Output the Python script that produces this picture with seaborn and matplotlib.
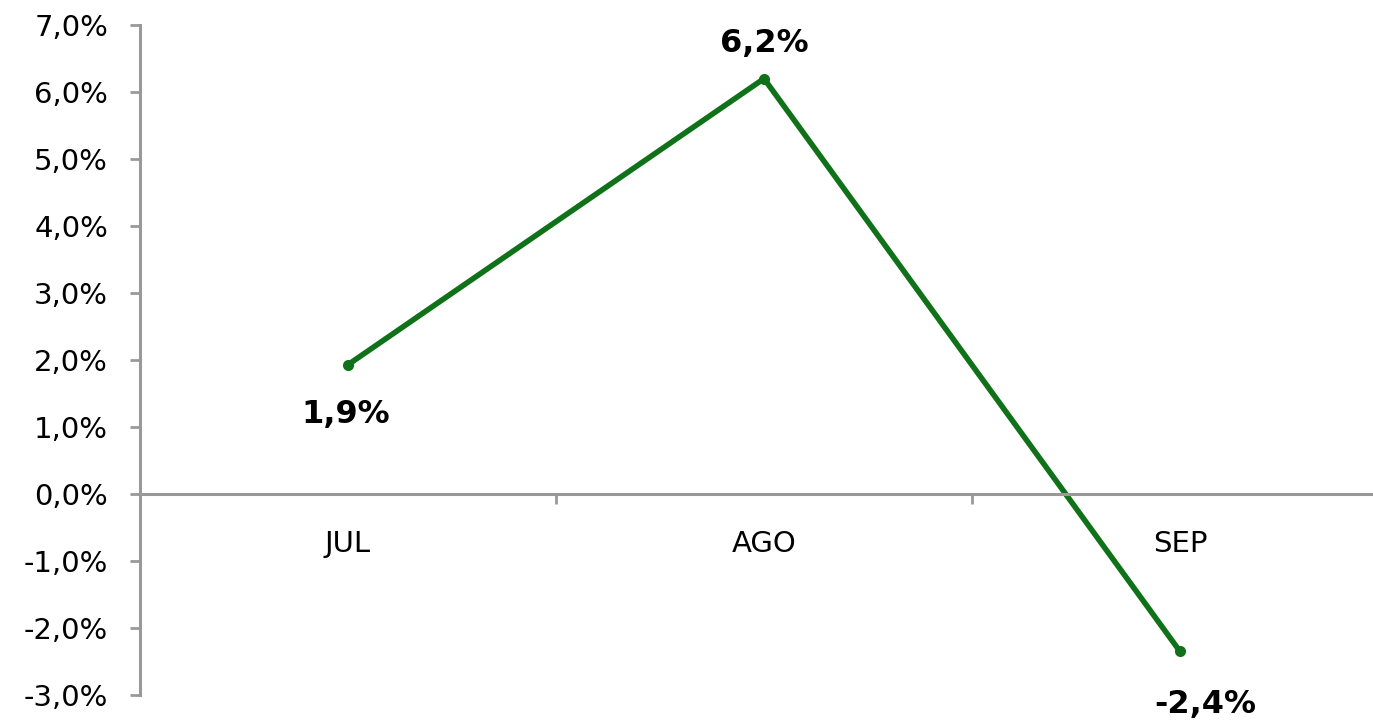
import matplotlib.pyplot as plt
import pandas as pd
import seaborn as sns

# monthly change
months = ["JUL", "AGO", "SEP"]
values = [1.93, 6.2, -2.35]
labels = ["1,9%", "6,2%", "-2,4%"]
label_offsets = [(-2, -36), (0, 25), (18, -38)]  # points from marker

df = pd.DataFrame({"mes": months, "variacion": values})

sns.set_style("white")
plt.rcParams["font.family"] = ["DejaVu Sans"]
plt.rcParams["text.color"] = "black"

fig = plt.figure(figsize=(13.73, 7.21), dpi=100)
ax = fig.add_axes([140 / 1373, 26 / 721, 1248 / 1373, 670 / 721])

sns.lineplot(data=df, x="mes", y="variacion", ax=ax, color="#0f7219",
             linewidth=4, marker="o", markersize=8, markeredgewidth=0,
             sort=False)

for i, (v, lab, off) in enumerate(zip(values, labels, label_offsets)):
    ax.annotate(lab, (i, v), xytext=off, textcoords="offset points",
                ha="center", va="center", fontsize=23, fontweight="bold",
                color="black")

ax.set_xlim(-0.5, 2.5)
ax.set_ylim(-3, 7)
ax.set_yticks(range(-3, 8))
ax.set_yticklabels([f"{t},0%" for t in range(-3, 8)])
ax.set_xlabel("")
ax.set_ylabel("")

grey = "#999999"
ax.spines["right"].set_visible(False)
ax.spines["top"].set_visible(False)
ax.spines["bottom"].set_position(("data", 0))
for s in ["left", "bottom"]:
    ax.spines[s].set_color(grey)
    ax.spines[s].set_linewidth(2.2)

ax.set_xticks([0, 1, 2])
ax.set_xticks([-0.5, 0.5, 1.5], minor=True)
ax.tick_params(axis="x", which="major", length=0, pad=26, labelsize=21,
               labelcolor="black")
ax.tick_params(axis="x", which="minor", length=7, width=2, color=grey,
               direction="out", bottom=True)
ax.tick_params(axis="y", length=7, width=2, color=grey, direction="out",
               labelsize=21, pad=16, left=True, labelcolor="black")

fig.savefig("out.png", dpi=100)
